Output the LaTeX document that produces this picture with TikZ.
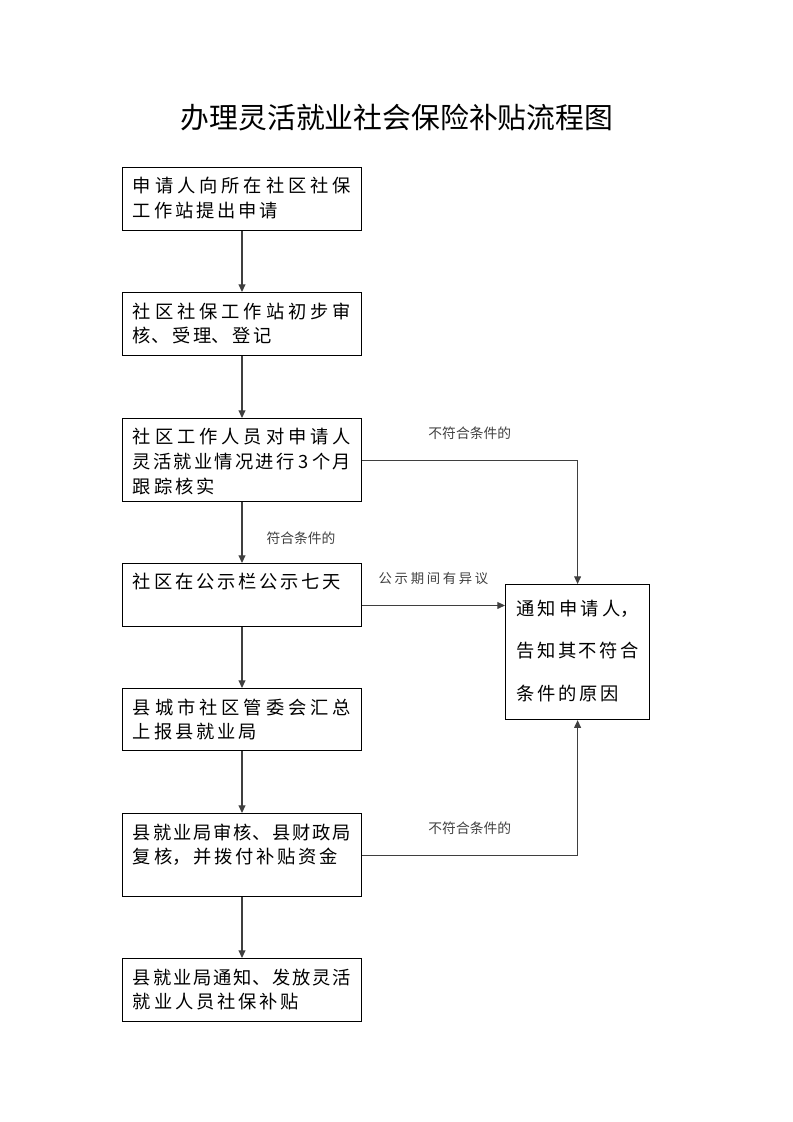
\documentclass[tikz,border=0pt]{standalone}
\usepackage{fontspec}
\usepackage{xcolor}
\usepackage{tikz}
\usetikzlibrary{arrows.meta, positioning}
\setmainfont{Noto Sans CJK SC}
\newfontfamily\spacedfont[LetterSpace=20]{Noto Sans CJK SC}
\XeTeXlinebreaklocale "zh"
\XeTeXlinebreakskip=2pt plus 4pt minus 2pt
\definecolor{LineGrey}{HTML}{3F3F3F}
\definecolor{LabelGrey}{HTML}{404040}
\newcommand{\steplines}[3]{\parbox[t][#1][t]{#2}{#3}}

\begin{document}
\begin{tikzpicture}[x=0.025cm, y=-0.025cm,
    stepbox/.style={draw, line width=0.8pt, anchor=north west, inner xsep=0.26cm, inner ysep=0.25cm, font=\fontsize{13pt}{17.7pt}\selectfont},
    flowarrow/.style={draw=LineGrey, line width=0.8pt, -{Triangle[length=1.9mm, width=1.7mm]}},
    condlabel/.style={text=LabelGrey, inner sep=0pt, font=\fontsize{9.8pt}{11pt}\selectfont}]
  \useasboundingbox (0,0) rectangle (793,1122);

  \node[font=\fontsize{20.5pt}{24pt}\selectfont] (title) at (397,118) {办理灵活就业社会保险补贴流程图};

  % main column
  \node[stepbox] (apply) at (122,167) {\steplines{1.075cm}{5.45cm}{申请人向所在社区社保\linebreak 工作站提出申请}};
  \node[stepbox] (check) at (122,292) {\steplines{1.075cm}{5.45cm}{社区社保工作站初步审\linebreak 核、受理、登记}};
  \node[stepbox] (verify) at (122,418) {\steplines{1.575cm}{5.45cm}{社区工作人员对申请人\linebreak 灵活就业情况进行 3 个月\linebreak 跟踪核实}};
  \node[stepbox] (board) at (122,563) {\steplines{1.075cm}{5.45cm}{社区在公示栏公示七天}};
  \node[stepbox] (county) at (122,688) {\steplines{1.05cm}{5.45cm}{县城市社区管委会汇总\linebreak 上报县就业局}};
  \node[stepbox] (review) at (122,813) {\steplines{1.575cm}{5.45cm}{县就业局审核、县财政局\linebreak 复核，并拨付补贴资金}};
  \node[stepbox] (pay) at (122,958) {\steplines{1.075cm}{5.45cm}{县就业局通知、发放灵活\linebreak 就业人员社保补贴}};

  % rejection box
  \node[stepbox, inner xsep=0.275cm, inner ysep=0.4cm, font=\fontsize{13pt}{29.9pt}\selectfont] (notice) at (505,584) {\steplines{2.575cm}{3.05cm}{通知申请人，\linebreak 告知其不符合\linebreak 条件的原因}};

  \draw[flowarrow] (apply) -- (check);
  \draw[flowarrow] (check) -- (verify);
  \draw[flowarrow] (verify) -- node[condlabel, pos=0.6, right=0.6cm] {符合条件的} (board);
  \draw[flowarrow] (board) -- (county);
  \draw[flowarrow] (county) -- (review);
  \draw[flowarrow] (review) -- (pay);

  \draw[flowarrow] (verify.east) -| node[condlabel, pos=0.25, above=0.5cm] {不符合条件的} (notice.north);
  \coordinate (boardout) at ([yshift=-0.26cm]board.east);
  \draw[flowarrow] (boardout) -- node[condlabel, above=0.5cm, font={\spacedfont\fontsize{9.5pt}{11pt}\selectfont}] {公示期间有异议} (boardout -| notice.west);
  \draw[flowarrow] (review.east) -| node[condlabel, pos=0.25, above=0.5cm] {不符合条件的} (notice.south);
\end{tikzpicture}
\end{document}
